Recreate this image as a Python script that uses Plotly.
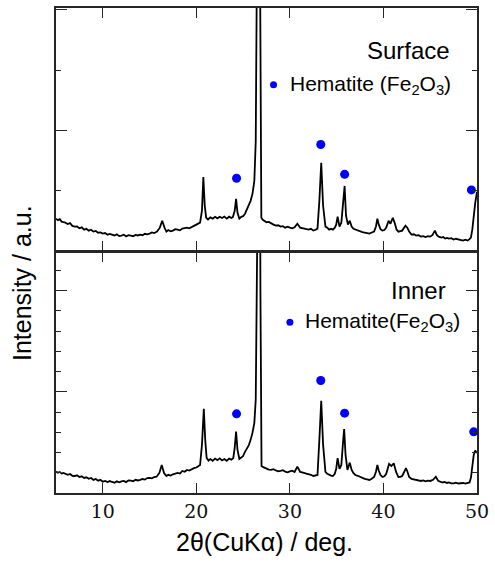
import plotly.graph_objects as go

# ---------------- data ----------------
# Surface sample: 2theta (deg) and intensity (a.u.)
surf_2theta = [5.0, 5.2, 5.4, 5.6, 5.8, 6.0, 6.25, 6.5, 6.75, 7.0, 7.25, 7.5, 7.75, 8.0, 8.25, 8.5, 8.75, 9.0,
               9.25, 9.5, 9.75, 10.0, 10.25, 10.5, 10.75, 11.0, 11.25, 11.5, 11.75, 12.0, 12.25, 12.5, 12.75,
               13.0, 13.25, 13.5, 13.75, 14.0, 14.25, 14.5, 14.75, 15.0, 15.25, 15.5, 15.8, 16.1, 16.35, 16.6,
               16.8, 17.0, 17.25, 17.5, 17.75, 18.0, 18.25, 18.5, 18.75, 19.0, 19.25, 19.5, 19.75, 20.0, 20.2,
               20.4, 20.6, 20.75, 20.9, 21.05, 21.25, 21.5, 21.75, 22.0, 22.25, 22.5, 22.75, 23.0, 23.25, 23.5,
               23.75, 23.9, 24.1, 24.25, 24.4, 24.6, 24.8, 25.0, 25.2, 25.4, 25.6, 25.8, 26.0, 26.2, 26.35,
               26.45, 26.55, 26.75, 26.85, 26.95, 27.1, 27.3, 27.5, 27.75, 28.0, 28.25, 28.5, 28.75, 29.0,
               29.25, 29.5, 29.75, 30.0, 30.25, 30.5, 30.8, 31.1, 31.3, 31.5, 31.75, 32.0, 32.25, 32.5, 32.75,
               32.95, 33.15, 33.35, 33.55, 33.8, 34.0, 34.2, 34.4, 34.6, 34.8, 34.95, 35.1, 35.3, 35.5, 35.7,
               35.85, 36.0, 36.2, 36.4, 36.6, 36.8, 37.0, 37.25, 37.5, 37.75, 38.0, 38.25, 38.5, 38.75, 39.0,
               39.2, 39.35, 39.5, 39.7, 39.9, 40.1, 40.3, 40.55, 40.75, 41.0, 41.2, 41.4, 41.6, 41.8, 42.0,
               42.2, 42.35, 42.55, 42.75, 43.0, 43.25, 43.5, 43.75, 44.0, 44.25, 44.5, 44.75, 45.0, 45.25,
               45.5, 45.7, 45.9, 46.2, 46.4, 46.6, 46.8, 47.0, 47.25, 47.5, 47.75, 48.0, 48.25, 48.5, 48.75,
               49.0, 49.2, 49.35, 49.5, 49.65, 49.8, 50.0]
surf_int = [529, 505, 520, 480, 470, 463, 440, 455, 410, 397, 400, 370, 385, 347, 360, 330, 345, 314,
            325, 295, 300, 281, 290, 262, 275, 264, 250, 268, 240, 248, 262, 235, 255,
            248, 238, 260, 250, 264, 255, 278, 270, 281, 300, 290, 314, 380, 496, 380,
            314, 340, 320, 331, 355, 347, 335, 364, 372, 380, 370, 397, 410, 430, 445,
            463, 661, 1223, 744, 545, 515, 550, 530, 560, 535, 562, 540, 565, 530, 562,
            540, 555, 661, 860, 628, 529, 560, 570, 612, 680, 730, 826, 942, 1157, 1818,
            3500, 6500, 6500, 2500, 545, 510, 490, 470, 475, 446, 430, 413, 420, 397,
            405, 380, 395, 380, 370, 385, 446, 380, 370, 364, 350, 347, 360, 331, 345,
            364, 826, 1460, 744, 397, 380, 347, 360, 347, 380, 430, 562, 397, 463, 826,
            1074, 579, 430, 496, 397, 360, 347, 330, 314, 305, 298, 290, 281, 300, 314,
            400, 529, 430, 350, 331, 340, 380, 496, 446, 545, 460, 350, 314, 320, 331,
            380, 413, 380, 314, 264, 270, 248, 255, 231, 240, 225, 240, 231, 260,
            331, 260, 231, 215, 225, 198, 210, 198, 205, 182, 195, 182, 175, 165, 180,
            165, 190, 215, 350, 612, 780, 975]

# Inner sample
inner_2theta = [5.0, 5.2, 5.4, 5.6, 5.8, 6.0, 6.25, 6.5, 6.75, 7.0, 7.25, 7.5, 7.75, 8.0, 8.25, 8.5, 8.75, 9.0,
                9.25, 9.5, 9.75, 10.0, 10.25, 10.5, 10.75, 11.0, 11.25, 11.5, 11.75, 12.0, 12.25, 12.5, 12.75,
                13.0, 13.25, 13.5, 13.75, 14.0, 14.25, 14.5, 14.75, 15.0, 15.25, 15.5, 15.75, 16.05, 16.3, 16.55,
                16.8, 17.0, 17.25, 17.5, 17.75, 18.0, 18.25, 18.5, 18.75, 19.0, 19.25, 19.5, 19.75, 20.0, 20.2,
                20.4, 20.6, 20.8, 20.95, 21.1, 21.3, 21.5, 21.75, 22.0, 22.25, 22.5, 22.75, 23.0, 23.25, 23.5,
                23.75, 23.95, 24.1, 24.25, 24.4, 24.6, 24.8, 25.0, 25.2, 25.4, 25.6, 25.8, 26.0, 26.2, 26.35,
                26.45, 26.55, 26.75, 26.85, 26.97, 27.15, 27.35, 27.55, 27.75, 28.0, 28.25, 28.5, 28.75, 29.0,
                29.25, 29.5, 29.75, 30.0, 30.25, 30.5, 30.8, 31.1, 31.3, 31.5, 31.75, 32.0, 32.25, 32.5, 32.75,
                32.95, 33.15, 33.35, 33.55, 33.8, 34.0, 34.2, 34.4, 34.6, 34.8, 34.95, 35.1, 35.3, 35.5, 35.7,
                35.8, 35.95, 36.15, 36.4, 36.6, 36.8, 37.0, 37.25, 37.5, 37.75, 38.0, 38.25, 38.5, 38.75, 39.0,
                39.2, 39.35, 39.5, 39.7, 39.9, 40.1, 40.3, 40.6, 40.85, 41.1, 41.35, 41.6, 41.8, 42.0,
                42.2, 42.4, 42.55, 42.75, 43.0, 43.25, 43.5, 43.75, 44.0, 44.25, 44.5, 44.75, 45.0, 45.3,
                45.6, 45.85, 46.1, 46.3, 46.55, 46.8, 47.0, 47.25, 47.5, 47.75, 48.0, 48.25, 48.5, 48.75,
                49.0, 49.2, 49.35, 49.5, 49.65, 49.8, 50.0]
inner_int = [211, 200, 208, 192, 198, 188, 180, 188, 170, 168, 175, 158, 165, 149, 155, 140, 148, 129,
             138, 122, 130, 112, 120, 108, 118, 109, 102, 115, 106, 114, 120, 108, 125,
             122, 115, 130, 124, 129, 138, 132, 148, 149, 145, 158, 161, 198, 277, 198,
             168, 180, 172, 185, 190, 198, 192, 218, 210, 228, 222, 238, 245, 252, 262,
             277, 475, 832, 525, 347, 320, 335, 318, 340, 325, 342, 322, 336, 318, 340,
             330, 345, 446, 607, 426, 337, 350, 365, 406, 440, 470, 525, 594, 693, 921,
             1911, 5000, 5000, 2000, 267, 255, 245, 240, 232, 228, 236, 223, 215, 218,
             225, 211, 205, 213, 220, 208, 260, 208, 200, 198, 192, 188, 180, 168, 172,
             178, 525, 911, 475, 208, 190, 178, 172, 168, 190, 240, 344, 238, 277, 525,
             631, 376, 228, 300, 228, 195, 178, 170, 158, 150, 139, 135, 129, 140, 158,
             210, 277, 220, 175, 158, 165, 190, 287, 267, 294, 208, 158, 160, 168,
             205, 245, 215, 158, 139, 135, 129, 125, 119, 125, 115, 122, 119, 130,
             161, 120, 109, 104, 110, 99, 104, 95, 96, 102, 94, 100, 99, 92,
             96, 104, 150, 248, 376, 419, 396]

# Hematite (Fe2O3) peak markers
surf_hem_2theta = [24.3, 33.3, 35.85, 49.4]
surf_hem_int = [1202, 1763, 1267, 1008]
inner_hem_2theta = [24.3, 33.3, 35.85, 49.65]
inner_hem_int = [782, 1112, 789, 604]

# legend-like labels
surf_label = "Surface"
inner_label = "Inner"
surf_hem_label = "Hematite (Fe<sub>2</sub>O<sub>3</sub>)"
inner_hem_label = "Hematite(Fe<sub>2</sub>O<sub>3</sub>)"
surf_key = (28.25, 2755)
inner_key = (30.0, 1686)

x_ticks = [10, 20, 30, 40, 50]

# ---------------- figure ----------------
SANS = "Arial, 'Liberation Sans', sans-serif"
SERIF = "'DejaVu Serif', serif"
BLUE = "#0000ff"
AX = "#262626"
LINE_W = 1.5
PLOT_H = 562 - 6 - 69
LOW_TOP = 0.5 - LINE_W / PLOT_H  # make the two border lines coincide

fig = go.Figure()

fig.add_trace(go.Scatter(x=surf_2theta, y=surf_int, mode="lines", xaxis="x2", yaxis="y2",
                         line=dict(color="black", width=1.8), showlegend=False, hoverinfo="skip"))
fig.add_trace(go.Scatter(x=inner_2theta, y=inner_int, mode="lines", xaxis="x", yaxis="y",
                         line=dict(color="black", width=1.8), showlegend=False, hoverinfo="skip"))

fig.add_trace(go.Scatter(x=surf_hem_2theta + [surf_key[0]], y=surf_hem_int + [surf_key[1]], mode="markers",
                         xaxis="x2", yaxis="y2",
                         marker=dict(color=BLUE, size=[9, 9, 9, 9, 7], opacity=1, line=dict(width=0)),
                         showlegend=False, cliponaxis=False))
fig.add_trace(go.Scatter(x=inner_hem_2theta + [inner_key[0]], y=inner_hem_int + [inner_key[1]], mode="markers",
                         xaxis="x", yaxis="y",
                         marker=dict(color=BLUE, size=[9, 9, 9, 9, 7], opacity=1, line=dict(width=0)),
                         showlegend=False, cliponaxis=False))

common_x = dict(range=[5, 50], tickvals=x_ticks, ticks="inside", ticklen=10, tickwidth=1.3, tickcolor=AX,
                mirror="ticks", showline=True, linecolor=AX, linewidth=LINE_W, showgrid=False, zeroline=False)
fig.update_layout(
    width=495, height=562,
    margin=dict(l=56, r=14, t=6, b=69),
    paper_bgcolor="white", plot_bgcolor="rgba(0,0,0,0)",
    xaxis=dict(common_x, anchor="y", domain=[0, 1],
               tickfont=dict(family=SERIF, size=19, color="#111")),
    xaxis2=dict(common_x, anchor="y2", domain=[0, 1], matches="x", showticklabels=False),
    yaxis=dict(domain=[0, LOW_TOP], range=[0, 2396 * LOW_TOP / 0.5], tick0=0, dtick=1000, ticks="inside",
               ticklen=11, tickwidth=1.3, tickcolor=AX,
               minor=dict(dtick=200, ticks="inside", ticklen=5, tickcolor=AX),
               mirror="ticks", showline=True, linecolor=AX, linewidth=LINE_W, showticklabels=False,
               showgrid=False, zeroline=False),
    yaxis2=dict(domain=[0.5, 1], range=[0, 4033], tick0=0, dtick=2000, ticks="inside", ticklen=11,
                tickwidth=1.3, tickcolor=AX, minor=dict(dtick=1000, ticks="inside", ticklen=5, tickcolor=AX),
                mirror="ticks", showline=True, linecolor=AX, linewidth=LINE_W, showticklabels=False,
                showgrid=False, zeroline=False),
    annotations=[
        dict(text=surf_label, x=47.3, y=3322, xref="x2", yref="y2", xanchor="right", yanchor="middle",
             showarrow=False, font=dict(family=SANS, size=24, color="black")),
        dict(text=surf_hem_label, x=29.84, y=2760, xref="x2", yref="y2", xanchor="left", yanchor="middle",
             showarrow=False, font=dict(family=SANS, size=21, color="black")),
        dict(text=inner_label, x=46.9, y=2005, xref="x", yref="y", xanchor="right", yanchor="middle",
             showarrow=False, font=dict(family=SANS, size=24, color="black")),
        dict(text=inner_hem_label, x=31.43, y=1686, xref="x", yref="y", xanchor="left", yanchor="middle",
             showarrow=False, font=dict(family=SANS, size=21, color="black")),
        dict(text="Intensity / a.u.", x=-0.082, y=0.434, xref="paper", yref="paper", textangle=-90,
             xanchor="center", yanchor="middle", showarrow=False, font=dict(family=SANS, size=25, color="black")),
        dict(text="2θ(CuKα) / deg.", x=0.495, y=-0.100, xref="paper", yref="paper",
             xanchor="center", yanchor="middle", showarrow=False, font=dict(family=SANS, size=25, color="black")),
    ],
)

fig.write_html("out.html")
